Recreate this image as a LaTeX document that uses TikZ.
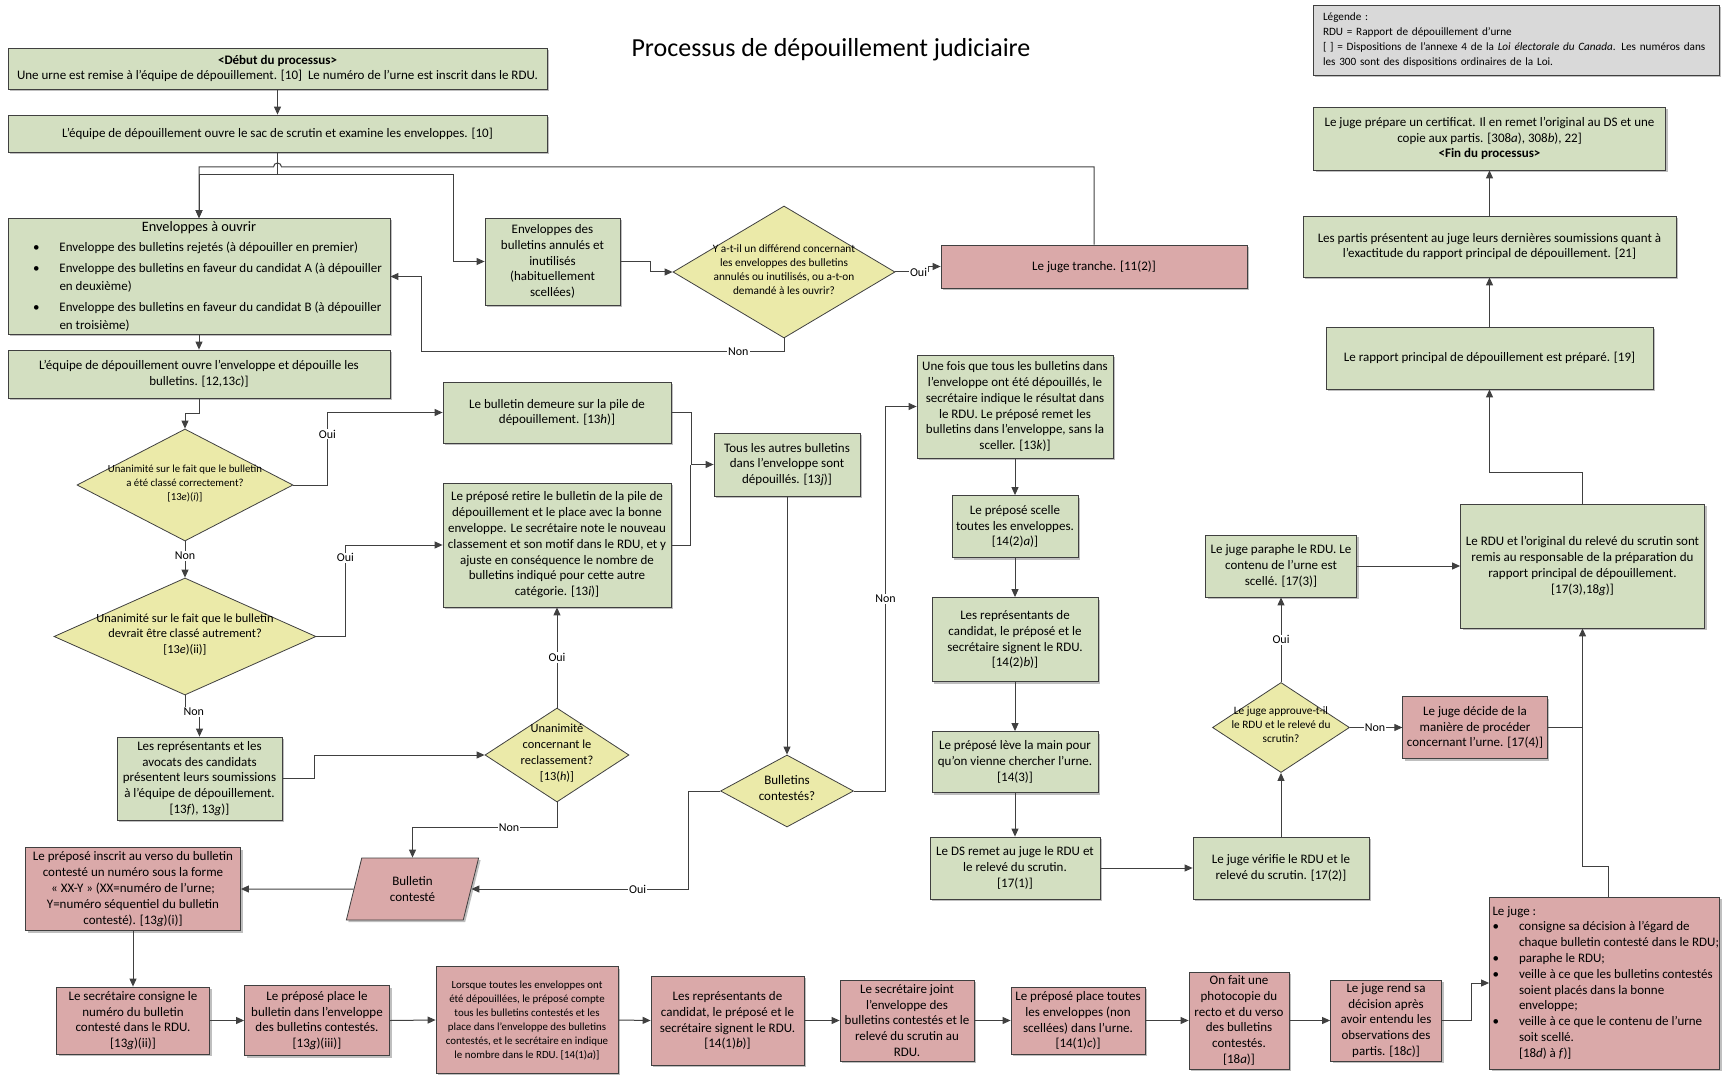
\documentclass[tikz,border=0pt]{standalone}
\usepackage{fontspec}
\setmainfont{Carlito}
\usetikzlibrary{shapes.geometric,arrows.meta,shadows}

\definecolor{linegray}{RGB}{64,64,64}
\definecolor{boxgreen}{RGB}{211,223,193}
\definecolor{boxred}{RGB}{218,169,169}
\definecolor{boxyellow}{RGB}{235,234,169}
\definecolor{boxgray}{RGB}{217,217,217}

\newcommand{\disp}[1]{[#1]}
\newcommand{\puce}{\makebox[26.5pt][l]{\textbullet}}
\newcommand{\dtext}[1]{\raisebox{-2.5pt}{\makebox[0pt]{\smash{\begin{tabular}{@{}c@{}}#1\end{tabular}}}}}

\tikzstyle{procbox}=[
	draw=linegray,
	line width=0.8pt,
	align=center,
	inner sep=2pt,
	font=\fontsize{13}{15.8}\selectfont,
	drop shadow={shadow xshift=2pt, shadow yshift=-2pt, fill=black, opacity=0.25}
]
\tikzstyle{greenbox}=[procbox, fill=boxgreen]
\tikzstyle{redbox}=[procbox, fill=boxred]
\tikzstyle{decision}=[
	draw=linegray,
	line width=0.8pt,
	fill=boxyellow,
	shape=diamond,
	inner sep=0pt,
	font=\fontsize{11.3}{14}\selectfont
]
\tikzstyle{flow}=[draw=linegray, line width=1pt, -{Triangle[length=8pt,width=7pt]}]
\tikzstyle{wire}=[draw=linegray, line width=1pt]
\tikzstyle{lbl}=[fill=white, inner sep=1pt, font=\fontsize{12}{13}\selectfont]

\begin{document}
\begin{tikzpicture}[x=1pt, y=-1pt]
			\useasboundingbox (0,0) rectangle (1722,1075);

			\node[font=\fontsize{26}{30}\selectfont] (title) at (831,50) {Processus de dépouillement judiciaire};
			\node[procbox, fill=boxgray, text width=386pt, inner xsep=10pt, align=left, minimum height=70pt, font=\fontsize{11.2}{15.3}\selectfont] (legende) at (1516,40) {Légende :\\RDU = Rapport de dépouillement d’urne\\{[ ]} = Dispositions de l’annexe 4 de la \textit{Loi électorale du Canada}. Les numéros dans\\les 300 sont des dispositions ordinaires de la Loi.};

			\node[greenbox, minimum width=539pt, minimum height=41pt]	(debut)	at (277.5,68.5) {\textbf{<Début du processus>}\\Une urne est remise à l’équipe de dépouillement. [10]\ \ Le numéro de l’urne est inscrit dans le RDU.};
			\node[greenbox, minimum width=539pt, minimum height=37pt]	(sac)	at (277.5,133.5) {L’équipe de dépouillement ouvre le sac de scrutin et examine les enveloppes. [10]};
			\node[greenbox, inner sep=0pt, minimum width=382pt, minimum height=115pt, font=\fontsize{13}{18}\selectfont]	(ouvrir)	at (199,276.5) {\begin{tabular}{@{}l@{}}
				\makebox[382pt][c]{\fontsize{14.3}{18}\selectfont Enveloppes à ouvrir}\\[2pt]
				\makebox[382pt][l]{\hspace{25pt}\puce Enveloppe des bulletins rejetés (à dépouiller en premier)}\\[3pt]
				\makebox[382pt][l]{\hspace{25pt}\puce Enveloppe des bulletins en faveur du candidat A (à dépouiller}\\
				\makebox[382pt][l]{\hspace{51.5pt}en deuxième)}\\[3pt]
				\makebox[382pt][l]{\hspace{25pt}\puce Enveloppe des bulletins en faveur du candidat B (à dépouiller}\\
				\makebox[382pt][l]{\hspace{51.5pt}en troisième)}
				\end{tabular}};
			\node[greenbox, minimum width=135pt, minimum height=87pt]	(annules)	at (552.5,261.5) {Enveloppes des\\bulletins annulés et\\inutilisés\\(habituellement\\scellées)};
			\node[decision, minimum width=222pt, minimum height=132pt]	(diff)	at (784,272) {\dtext{Y a-t-il un différend concernant\\les enveloppes des bulletins\\annulés ou inutilisés, ou a-t-on\\demandé à les ouvrir?}};
			\node[redbox, minimum width=306pt, minimum height=43pt]	(tranche)	at (1094,266.5) {Le juge tranche. [11(2)]};
			\node[greenbox, minimum width=382pt, minimum height=48pt]	(depouille)	at (199,374) {L’équipe de dépouillement ouvre l’enveloppe et dépouille les\\bulletins. [12,13\textit{c})]};

			\node[decision, minimum width=216pt, minimum height=112pt, font=\fontsize{10.8}{14.2}\selectfont]	(correct)	at (185,485) {\dtext{Unanimité sur le fait que le bulletin\\a été classé correctement?\\\disp{13\textit{e})(\textit{i})}}};
			\node[decision, minimum width=262pt, minimum height=117pt, font=\fontsize{12.4}{15.8}\selectfont]	(autre)	at (185,636.5) {\dtext{Unanimité sur le fait que le bulletin\\devrait être classé autrement?\\\disp{13\textit{e})(ii)}}};
			\node[greenbox, minimum width=228pt, minimum height=61pt]	(demeure)	at (557,412.5) {Le bulletin demeure sur la pile de\\dépouillement. [13\textit{h})]};
			\node[greenbox, minimum width=228pt, minimum height=124pt]	(retire)	at (557,545) {Le préposé retire le bulletin de la pile de\\dépouillement et le place avec la bonne\\enveloppe. Le secrétaire note le nouveau\\classement et son motif dans le RDU, et y\\ajuste en conséquence le nombre de\\bulletins indiqué pour cette autre\\catégorie. [13\textit{i})]};
			\node[greenbox, minimum width=146pt, minimum height=63pt]	(tous)	at (787,464.5) {Tous les autres bulletins\\dans l’enveloppe sont\\dépouillés. [13\textit{j})]};
			\node[greenbox, minimum width=165pt, minimum height=83pt]	(avocats)	at (199.5,778.5) {Les représentants et les\\avocats des candidats\\présentent leurs soumissions\\à l’équipe de dépouillement.\\\disp{13\textit{f}), 13\textit{g})}};
			\node[decision, minimum width=144pt, minimum height=94pt, font=\fontsize{12.4}{15.8}\selectfont]	(reclass)	at (557,755) {\dtext{Unanimité\\concernant le\\reclassement?\\\disp{13(\textit{h})}}};
			\node[decision, minimum width=133pt, minimum height=72pt, font=\fontsize{13}{15.8}\selectfont]	(contestes)	at (787,791) {\dtext{Bulletins\\contestés?}};
			\node[redbox, shape=trapezium, trapezium left angle=75.5, trapezium right angle=104.5, trapezium stretches=true, minimum width=133pt, minimum height=62pt]	(contest)	at (412.5,889) {Bulletin\\contesté};

			\node[redbox, minimum width=215pt, minimum height=83pt]	(inscrit)	at (133,889) {Le préposé inscrit au verso du bulletin\\contesté un numéro sous la forme\\« XX-Y » (XX=numéro de l’urne;\\Y=numéro séquentiel du bulletin\\contesté). [13\textit{g})(i)]};
			\node[redbox, minimum width=153pt, minimum height=67pt]	(consigne)	at (133,1020.5) {Le secrétaire consigne le\\numéro du bulletin\\contesté dans le RDU.\\\disp{13\textit{g})(ii)}};
			\node[redbox, minimum width=145pt, minimum height=70pt]	(placeb)	at (317,1020.5) {Le préposé place le\\bulletin dans l’enveloppe\\des bulletins contestés.\\\disp{13\textit{g})(iii)}};
			\node[redbox, minimum width=182pt, minimum height=107pt, font=\fontsize{10.9}{14}\selectfont]	(lorsque)	at (527,1020) {Lorsque toutes les enveloppes ont\\été dépouillées, le préposé compte\\tous les bulletins contestés et les\\place dans l’enveloppe des bulletins\\contestés, et le secrétaire en indique\\le nombre dans le RDU. [14(1)\textit{a})]};
			\node[redbox, minimum width=153pt, minimum height=89pt]	(signent1)	at (727.5,1020.5) {Les représentants de\\candidat, le préposé et le\\secrétaire signent le RDU.\\\disp{14(1)\textit{b})}};
			\node[redbox, minimum width=134pt, minimum height=81pt]	(joint)	at (907,1020.5) {Le secrétaire joint\\l’enveloppe des\\bulletins contestés et le\\relevé du scrutin au\\RDU.};
			\node[redbox, minimum width=134pt, minimum height=67pt]	(toutes)	at (1078,1020.5) {Le préposé place toutes\\les enveloppes (non\\scellées) dans l’urne.\\\disp{14(1)\textit{c})}};
			\node[redbox, minimum width=100pt, minimum height=97pt]	(photo)	at (1239,1020.5) {On fait une\\photocopie du\\recto et du verso\\des bulletins\\contestés.\\\disp{18\textit{a})}};
			\node[redbox, minimum width=111pt, minimum height=81pt]	(rend)	at (1386,1020.5) {Le juge rend sa\\décision après\\avoir entendu les\\observations des\\partis. [18\textit{c})]};
			\node[redbox, inner sep=0pt, minimum width=230pt, minimum height=172pt]	(lejuge)	at (1604.5,983) {\begin{tabular}{@{}l@{}}
				\makebox[230pt][l]{\hspace{3pt}Le juge :}\\
				\makebox[230pt][l]{\hspace{3pt}\puce consigne sa décision à l’égard de}\\
				\makebox[230pt][l]{\hspace{29.5pt}chaque bulletin contesté dans le RDU;}\\
				\makebox[230pt][l]{\hspace{3pt}\puce paraphe le RDU;}\\
				\makebox[230pt][l]{\hspace{3pt}\puce veille à ce que les bulletins contestés}\\
				\makebox[230pt][l]{\hspace{29.5pt}soient placés dans la bonne}\\
				\makebox[230pt][l]{\hspace{29.5pt}enveloppe;}\\
				\makebox[230pt][l]{\hspace{3pt}\puce veille à ce que le contenu de l’urne}\\
				\makebox[230pt][l]{\hspace{29.5pt}soit scellé.}\\
				\makebox[230pt][l]{\hspace{29.5pt}[18\textit{d}) à \textit{f})]}
				\end{tabular}};

			\node[greenbox, minimum width=196pt, minimum height=103pt]	(unefois)	at (1015,406.5) {Une fois que tous les bulletins dans\\l’enveloppe ont été dépouillés, le\\secrétaire indique le résultat dans\\le RDU. Le préposé remet les\\bulletins dans l’enveloppe, sans la\\sceller. [13\textit{k})]};
			\node[greenbox, minimum width=126pt, minimum height=62pt]	(scelle)	at (1015,526.5) {Le préposé scelle\\toutes les enveloppes.\\\disp{14(2)\textit{a})}};
			\node[greenbox, minimum width=166pt, minimum height=84pt]	(signent2)	at (1015,639.5) {Les représentants de\\candidat, le préposé et le\\secrétaire signent le RDU.\\\disp{14(2)\textit{b})}};
			\node[greenbox, minimum width=166pt, minimum height=61pt]	(main)	at (1015,762) {Le préposé lève la main pour\\qu’on vienne chercher l’urne.\\\disp{14(3)}};
			\node[greenbox, minimum width=170pt, minimum height=62pt]	(ds)	at (1015,868) {Le DS remet au juge le RDU et\\le relevé du scrutin.\\\disp{17(1)}};
			\node[greenbox, minimum width=176pt, minimum height=62pt]	(verifie)	at (1281,868) {Le juge vérifie le RDU et le\\relevé du scrutin. [17(2)]};
			\node[decision, minimum width=137pt, minimum height=90pt]	(approuve)	at (1281,727.5) {\dtext{Le juge approuve-t-il\\le RDU et le relevé du\\scrutin?}};
			\node[redbox, minimum width=144.5pt, minimum height=62pt]	(decide)	at (1475,727.5) {Le juge décide de la\\manière de procéder\\concernant l’urne. [17(4)]};
			\node[greenbox, minimum width=151pt, minimum height=62pt]	(paraphe)	at (1281,566) {Le juge paraphe le RDU. Le\\contenu de l’urne est\\scellé. [17(3)]};
			\node[greenbox, minimum width=244pt, minimum height=124pt]	(rdu)	at (1582.5,566) {Le RDU et l’original du relevé du scrutin sont\\remis au responsable de la préparation du\\rapport principal de dépouillement.\\\disp{17(3),18\textit{g})}};
			\node[greenbox, minimum width=327pt, minimum height=62pt]	(rapport)	at (1489.5,358) {Le rapport principal de dépouillement est préparé. [19]};
			\node[greenbox, minimum width=373pt, minimum height=61pt]	(partis)	at (1489.5,246.5) {Les partis présentent au juge leurs dernières soumissions quant à\\l’exactitude du rapport principal de dépouillement. [21]};
			\node[greenbox, minimum width=352pt, minimum height=63pt]	(fin)	at (1489.5,138.5) {Le juge prépare un certificat. Il en remet l’original au DS et une\\copie aux partis. [308\textit{a}), 308\textit{b}), 22]\\\textbf{<Fin du processus>}};

			\coordinate (split) at (277.5,175);
			\draw[flow] (debut.south) -- (sac.north);
			\draw[wire] (sac.south) -- (split);
			\draw[flow] (split) -| (ouvrir.north);
			\draw[flow] (split) -| ([xshift=-31pt]annules.west) -- (annules.west);
			\draw[flow] (tranche.north) |- (281.5,167) arc[start angle=0, end angle=180, radius=4pt] -| (ouvrir.north);
			\draw[flow] (annules.east) -- ++(30,0) |- (diff.west);
			\draw[flow] (diff.east) -- node[lbl, pos=0.7] (oui1) {Oui} ++(33,0) |- (tranche.west);
			\draw[flow] (diff.south) -- ++(0,13) -| node[lbl, pos=0.063] (non1) {Non} ([xshift=31pt]ouvrir.east) -- (ouvrir.east);
			\draw[flow] (ouvrir.south) -- (depouille.north);
			\draw[flow] (depouille.south) -- ++(0,15) -| (correct.north);
			\draw[flow] (correct.east) -- ++(34,0) |- node[lbl, pos=0.35] (oui2) {Oui} (demeure.west);
			\draw[flow] (correct.south) -- node[lbl, pos=0.4] (non2) {Non} (autre.north);
			\draw[flow] (autre.east) -- ++(29,0) |- node[lbl, pos=0.43] (oui3) {Oui} (retire.west);
			\draw[flow] (autre.south) -- ++(0,16.5) -| node[lbl, pos=0.3] (non3) {Non} (avocats.north);
			\draw[flow] (demeure.east) -- ++(20,0) |- (tous.west);
			\draw[wire] (retire.east) -| ([xshift=-23pt]tous.west);
			\draw[flow] (tous.south) -- (contestes.north);
			\draw[flow] (contestes.east) -- ++(31.7,0) |- node[lbl, pos=0.25] (non4) {Non} (unefois.west);
			\draw[flow] (contestes.west) -- ++(-31.7,0) |- node[lbl, pos=0.617] (oui4) {Oui} (contest.east);
			\draw[flow] (reclass.north) -- node[lbl] (oui5) {Oui} (retire.south);
			\draw[flow] (avocats.east) -- ++(32,0) |- (reclass.west);
			\draw[flow] (reclass.south) -- ++(0,25) -| node[lbl, pos=0.166] (non5) {Non} (contest.north);
			\draw[flow] (contest.west) -- (inscrit.east);
			\draw[flow] (inscrit.south) -- (consigne.north);

			\path
				(consigne.east) edge[flow] (placeb.west)
				(placeb.east) edge[flow] (lorsque.west)
				(lorsque.east) edge[flow] (signent1.west)
				(signent1.east) edge[flow] (joint.west)
				(joint.east) edge[flow] (toutes.west)
				(toutes.east) edge[flow] (photo.west)
				(photo.east) edge[flow] (rend.west);
			\draw[flow] (rend.east) -- ++(30,0) |- (lejuge.west);
			\draw[flow] ([xshift=3.5pt]lejuge.north) -- ++(0,-30) -| (rdu.south);
			\draw[wire] (decide.east) -- (decide.east -| rdu.south);
			\draw[flow] (rdu.north) -- ++(0,-31) -| (rapport.south);
			\draw[flow] (rapport.north) -- (partis.south);
			\draw[flow] (partis.north) -- (fin.south);
			\draw[flow] (paraphe.east) -- (rdu.west);
			\draw[flow] (approuve.north) -- node[lbl] (oui6) {Oui} (paraphe.south);
			\draw[flow] (approuve.east) -- node[lbl, pos=0.48] (non6) {Non} (decide.west);
			\draw[flow] (verifie.north) -- (approuve.south);
			\draw[flow] (ds.east) -- (verifie.west);

			\path
				(unefois.south) edge[flow] (scelle.north)
				(scelle.south) edge[flow] (signent2.north)
				(signent2.south) edge[flow] (main.north)
				(main.south) edge[flow] (ds.north);

\end{tikzpicture}
\end{document}
